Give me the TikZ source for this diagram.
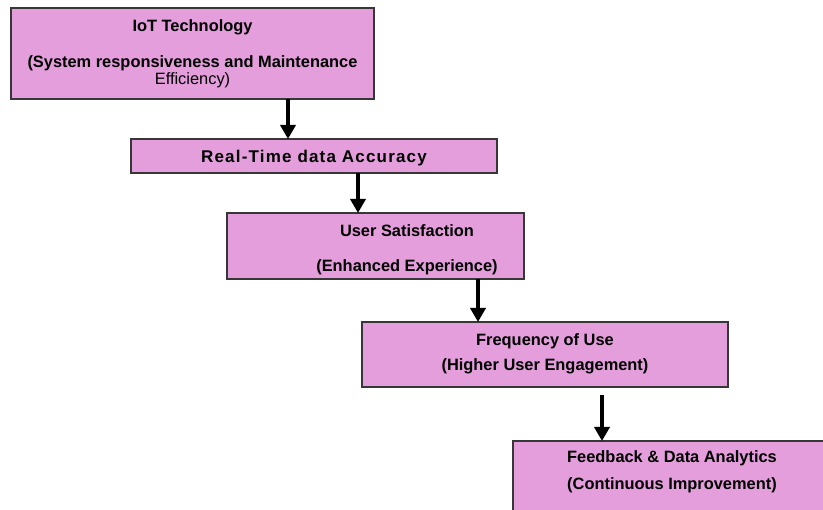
\documentclass[tikz,border=0pt]{standalone}
\usepackage{fontspec}
\setmainfont{Liberation Sans}
\usepackage{xcolor}
\usetikzlibrary{arrows.meta}
\definecolor{boxpink}{RGB}{228,158,220}
\definecolor{boxline}{RGB}{55,55,55}

\begin{document}
\begin{tikzpicture}[x=1pt,y=-1pt,
    box/.style={draw=boxline,line width=1.2pt,fill=boxpink,inner sep=0pt,outer sep=0pt},
    txt/.style={font=\fontsize{16.4}{17}\selectfont\bfseries,align=center,inner sep=0pt},
    arr/.style={line width=4pt,-{Triangle[width=15pt,length=14pt]}}]
      \clip (0,0) rectangle (823,510);

      \node[box,minimum width=363,minimum height=91] (b1) at (192.5,53.5) {};
      \node[box,minimum width=366,minimum height=34] (b2) at (314,156) {};
      \node[box,minimum width=297,minimum height=66] (b3) at (375.5,246) {};
      \node[box,minimum width=366,minimum height=65] (b4) at (545,354.5) {};
      \node[box,minimum width=320,minimum height=76] (b5) at (673,479) {};

      \node[txt] (t1) at (b1) {IoT Technology\\[19pt](System responsiveness and Maintenance\\{\mdseries Efficiency)}};
      \node[txt,anchor=base,font=\fontsize{17}{18}\selectfont\bfseries\addfontfeatures{LetterSpace=7}] (t2) at ([yshift=-7pt]b2.center) {Real-Time data Accuracy};
      \node[txt] (t3) at ([xshift=31.5pt,yshift=-4pt]b3.center) {User Satisfaction\\[18pt](Enhanced Experience)};
      \node[txt] (t4) at ([yshift=1pt]b4.center) {Frequency of Use\\[8pt](Higher User Engagement)};
      \node[txt,align=left,anchor=west] (t5) at ([xshift=54pt,yshift=-31pt]b5.north west) {Feedback \& Data Analytics\\[10pt](Continuous Improvement)};

      \foreach \a/\b/\s in {b1/b2/95.5, b2/b3/44, b3/b4/102.5} {
        \draw[arr] ([xshift=\s pt]\a.south) -- ([xshift=\s pt]\a.south |- \b.north);
      }
      \draw[arr,shorten <=8pt] ([xshift=57pt]b4.south) -- ([xshift=57pt]b4.south |- b5.north);
    \end{tikzpicture}
\end{document}
